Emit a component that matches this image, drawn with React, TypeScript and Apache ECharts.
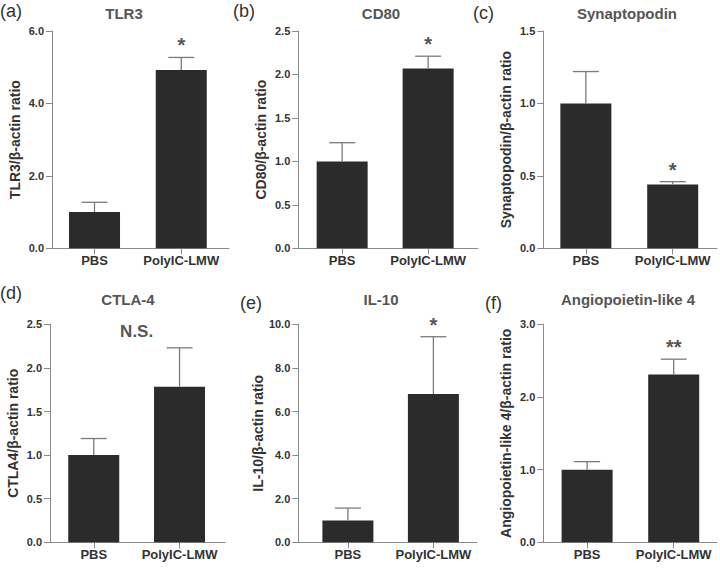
import React, { useEffect, useRef } from "react";
import * as echarts from "echarts";

const categories = ["PBS", "PolyIC-LMW"];
const panelLabels = ["(a)", "(b)", "(c)", "(d)", "(e)", "(f)"];
const titles = ["TLR3", "CD80", "Synaptopodin", "CTLA-4", "IL-10", "Angiopoietin-like 4"];
const yNames = [
  "TLR3/β-actin ratio",
  "CD80/β-actin ratio",
  "Synaptopodin/β-actin ratio",
  "CTLA4/β-actin ratio",
  "IL-10/β-actin ratio",
  "Angiopoietin-like 4/β-actin ratio",
];

const tlr3Means = [1.0, 4.92];
const tlr3Errs = [0.27, 0.35];
const cd80Means = [1.0, 2.07];
const cd80Errs = [0.215, 0.14];
const synaptopodinMeans = [1.0, 0.44];
const synaptopodinErrs = [0.22, 0.02];
const ctla4Means = [1.0, 1.785];
const ctla4Errs = [0.19, 0.445];
const il10Means = [1.0, 6.8];
const il10Errs = [0.57, 2.63];
const angptl4Means = [1.0, 2.31];
const angptl4Errs = [0.11, 0.21];

const allMeans = [tlr3Means, cd80Means, synaptopodinMeans, ctla4Means, il10Means, angptl4Means];
const allErrs = [tlr3Errs, cd80Errs, synaptopodinErrs, ctla4Errs, il10Errs, angptl4Errs];

const yMax = [6, 2.5, 1.5, 2.5, 10, 3];
const yInterval = [2, 0.5, 0.5, 0.5, 2, 1];
const sigLabels = ["*", "*", "*", "N.S.", "*", "**"];
const nsPosition = [0.5, 2.42];

// layout (pixels) per panel
const layout = [
  { left: 52, top: 31, width: 177, height: 217.3, xMin: -0.49, xMax: 1.55, lx: 0, ly: 11, tx: 124, ty: 13 },
  { left: 298.3, top: 31, width: 179.7, height: 217.3, xMin: -0.51, xMax: 1.58, lx: 233, ly: 11, tx: 381, ty: 13 },
  { left: 543.3, top: 31, width: 173.7, height: 217.3, xMin: -0.49, xMax: 1.51, lx: 473, ly: 12.5, tx: 627, ty: 13 },
  { left: 50, top: 324.3, width: 175, height: 218, xMin: -0.51, xMax: 1.53, lx: 0, ly: 292.5, tx: 128, ty: 299 },
  { left: 298.3, top: 324.3, width: 178.7, height: 218, xMin: -0.58, xMax: 1.51, lx: 240, ly: 303, tx: 381, ty: 299 },
  { left: 543.3, top: 324.3, width: 173.7, height: 218, xMin: -0.506, xMax: 1.5, lx: 485, ly: 303, tx: 628, ty: 299 },
];

const FONT = "'Liberation Sans', Arial, Helvetica, sans-serif";
const AXIS_COLOR = "#8a8a8a";
const BAR_COLOR = "#2b2b2b";
const TEXT_COLOR = "#333333";

export default function App() {
  const ref = useRef<HTMLDivElement>(null);

  useEffect(() => {
    document.body.style.margin = "0";
    if (!ref.current) return;
    const chart = echarts.init(ref.current, null, { renderer: "svg" });

    const grid: any[] = [];
    const xAxis: any[] = [];
    const yAxis: any[] = [];
    const series: any[] = [];
    const graphic: any[] = [];

    layout.forEach((L, i) => {
      grid.push({ left: L.left, top: L.top, width: L.width, height: L.height, containLabel: false });
      xAxis.push({
        type: "value",
        gridIndex: i,
        min: L.xMin,
        max: L.xMax,
        splitLine: { show: false },
        axisLine: { show: true, onZero: false, lineStyle: { color: AXIS_COLOR, width: 1 } },
        axisTick: { show: true, customValues: [0, 1], length: 6, lineStyle: { color: AXIS_COLOR } },
        axisLabel: {
          show: true,
          customValues: [0, 1],
          formatter: (v: number) => categories[Math.round(v)],
          fontFamily: FONT,
          fontWeight: "bold",
          fontSize: 13,
          color: TEXT_COLOR,
          margin: 6,
        },
      });
      yAxis.push({
        type: "value",
        gridIndex: i,
        min: 0,
        max: yMax[i],
        interval: yInterval[i],
        splitLine: { show: false },
        axisLine: { show: true, onZero: false, lineStyle: { color: AXIS_COLOR, width: 1 } },
        axisTick: { show: true, length: 6, lineStyle: { color: AXIS_COLOR } },
        axisLabel: {
          formatter: (v: number) => v.toFixed(1),
          fontFamily: FONT,
          fontWeight: "bold",
          fontSize: 11,
          color: TEXT_COLOR,
          margin: 8,
        },
        name: yNames[i],
        nameLocation: "middle",
        nameGap: 30,
        nameTextStyle: { fontFamily: FONT, fontWeight: "bold", fontSize: 14, color: TEXT_COLOR },
      });

      const means = allMeans[i];
      const errs = allErrs[i];
      series.push({
        type: "bar",
        xAxisIndex: i,
        yAxisIndex: i,
        barWidth: 51,
        itemStyle: { color: BAR_COLOR },
        data: means.map((m, k) => [k, m]),
        z: 2,
      });
      series.push({
        type: "custom",
        xAxisIndex: i,
        yAxisIndex: i,
        z: 3,
        data: means.map((m, k) => [k, m, errs[k]]),
        renderItem: (params: any, api: any) => {
          const x = api.value(0);
          const m = api.value(1);
          const e = api.value(2);
          const p0 = api.coord([x, m]);
          const p1 = api.coord([x, m + e]);
          const st = { stroke: "#7a7a7a", lineWidth: 1.3 };
          return {
            type: "group",
            children: [
              { type: "line", shape: { x1: p0[0], y1: p0[1], x2: p1[0], y2: p1[1] }, style: st },
              { type: "line", shape: { x1: p1[0] - 13, y1: p1[1], x2: p1[0] + 13, y2: p1[1] }, style: st },
            ],
          };
        },
      });
      const sig = sigLabels[i];
      const isNS = sig === "N.S.";
      const anchor = isNS ? nsPosition : [1, means[1] + errs[1]];
      series.push({
        type: "custom",
        xAxisIndex: i,
        yAxisIndex: i,
        z: 4,
        data: [[anchor[0], anchor[1]]],
        renderItem: (params: any, api: any) => {
          const p = api.coord([api.value(0), api.value(1)]);
          return {
            type: "text",
            x: p[0],
            y: isNS ? p[1] : p[1] - 2,
            style: {
              text: sig,
              align: "center",
              verticalAlign: isNS ? "middle" : "bottom",
              font: isNS ? `bold 17px ${FONT}` : `bold 20px ${FONT}`,
              fill: "#555555",
            },
          };
        },
      });

      graphic.push({
        type: "text",
        x: L.lx,
        y: L.ly,
        style: {
          text: panelLabels[i],
          align: "left",
          verticalAlign: "middle",
          font: `18px ${FONT}`,
          fill: TEXT_COLOR,
        },
      });
      graphic.push({
        type: "text",
        x: L.tx,
        y: L.ty,
        style: {
          text: titles[i],
          align: "center",
          verticalAlign: "middle",
          font: `bold 15px ${FONT}`,
          fill: "#555555",
        },
      });
    });

    chart.setOption({
      animation: false,
      backgroundColor: "#ffffff",
      grid,
      xAxis,
      yAxis,
      series,
      graphic,
    });

    return () => chart.dispose();
  }, []);

  return <div ref={ref} style={{ width: 720, height: 568 }} />;
}
